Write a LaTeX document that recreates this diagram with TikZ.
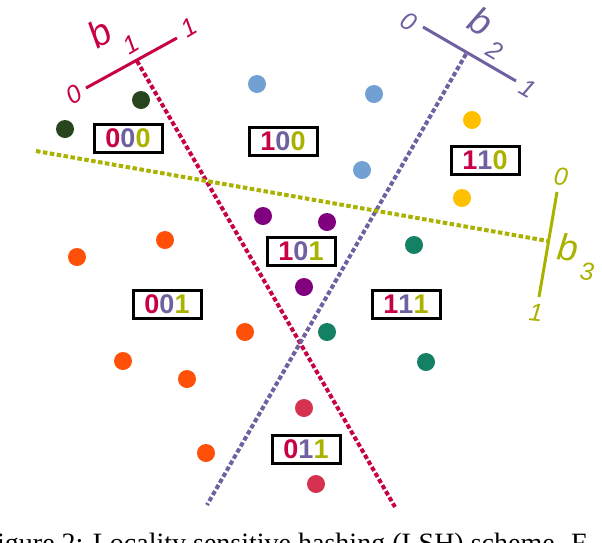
\documentclass[tikz,border=0pt]{standalone}
\usepackage{fontspec}
\setmainfont{Liberation Sans}
\newfontfamily\capfont{Liberation Serif}
\definecolor{cA}{RGB}{200,0,70}
\definecolor{cB}{RGB}{112,96,160}
\definecolor{cC}{RGB}{170,178,0}
\definecolor{dkgreen}{RGB}{40,70,30}
\definecolor{ltblue}{RGB}{114,160,210}
\definecolor{gold}{RGB}{255,192,0}
\definecolor{plum}{RGB}{128,0,128}
\definecolor{teal}{RGB}{20,128,100}
\definecolor{orng}{RGB}{255,80,10}
\definecolor{rose}{RGB}{214,50,80}
\begin{document}
\begin{tikzpicture}[x=1pt,y=-1pt,
  hyper/.style={line width=4pt,dash pattern=on 4.5pt off 2.5pt},
  axisline/.style={line width=3pt},
  code/.style={draw=black,line width=3pt,minimum width=68pt,minimum height=28pt,inner sep=0pt,font=\fontsize{27}{27}\selectfont\bfseries},
  pt/.style={circle,inner sep=0pt,minimum size=18pt},
  lab/.style={font=\fontsize{25}{25}\selectfont\itshape,inner sep=0pt},
  bl/.style={font=\fontsize{37}{37}\selectfont\itshape,inner sep=0pt}]
\useasboundingbox (0,0) rectangle (602,542);
\clip (0,0) rectangle (602,542);
% hyperplanes
\coordinate (h1a) at (137,61);  \coordinate (h1b) at (395,507);
\coordinate (h2a) at (466,54);  \coordinate (h2b) at (207,505);
\coordinate (h3a) at (36,151);  \coordinate (h3b) at (548,241);
\draw[hyper,cA] (h1a) -- (h1b);
\draw[hyper,cB] (h2a) -- (h2b);
\draw[hyper,cC] (h3a) -- (h3b);
% axis b1
\coordinate (a1a) at (86,88); \coordinate (a1b) at (177,38);
\draw[axisline,cA] (a1a) -- (a1b);
\node[lab,cA,rotate=31] (z1) at (74,95) {0};
\node[lab,cA,rotate=31] (o1) at (189,28) {1};
\node[bl,cA,rotate=31] (b1) at (100,33) {b};
\node[lab,cA,rotate=31] (s1) at (131,45) {1};
% axis b2
\coordinate (a2a) at (423,27); \coordinate (a2b) at (516,81);
\draw[axisline,cB] (a2a) -- (a2b);
\node[lab,cB,rotate=-30] (z2) at (409,22) {0};
\node[lab,cB,rotate=-30] (o2) at (528,89) {1};
\node[bl,cB,rotate=-30] (b2) at (481,21) {b};
\node[lab,cB,rotate=-30] (s2) at (495,50) {2};
% axis b3
\coordinate (a3a) at (557,192); \coordinate (a3b) at (539,297);
\draw[axisline,cC] (a3a) -- (a3b);
\node[lab,cC,rotate=-6] (z3) at (561,177) {0};
\node[lab,cC,rotate=-6] (o3) at (536,313) {1};
\node[bl,cC,rotate=-6] (b3) at (568,247) {b};
\node[lab,cC,rotate=-6] (s3) at (587,272) {3};
% points
\foreach \n/\x/\y in {g1/141/100,g2/65/129} \node[pt,fill=dkgreen] (\n) at (\x,\y) {};
\foreach \n/\x/\y in {l1/257/84,l2/374/94,l3/362/170} \node[pt,fill=ltblue] (\n) at (\x,\y) {};
\foreach \n/\x/\y in {y1/472/120,y2/462/198} \node[pt,fill=gold] (\n) at (\x,\y) {};
\foreach \n/\x/\y in {p1/263/216,p2/327/222,p3/304/287} \node[pt,fill=plum] (\n) at (\x,\y) {};
\foreach \n/\x/\y in {t1/414/245,t2/327/332,t3/426/362} \node[pt,fill=teal] (\n) at (\x,\y) {};
\foreach \n/\x/\y in {r1/77/257,r2/165/240,r3/245/332,r4/123/361,r5/187/379,r6/206/453} \node[pt,fill=orng] (\n) at (\x,\y) {};
\foreach \n/\x/\y in {k1/304/408,k2/316/484} \node[pt,fill=rose] (\n) at (\x,\y) {};
% codes
\node[code,fill=white] (c000) at (128,138) {\textcolor{cA}{0}\textcolor{cB}{0}\textcolor{cC}{0}};
\node[code,fill=white] (c100) at (283,141) {\textcolor{cA}{1}\textcolor{cB}{0}\textcolor{cC}{0}};
\node[code,fill=white] (c110) at (485,160) {\textcolor{cA}{1}\textcolor{cB}{1}\textcolor{cC}{0}};
\node[code,fill=white] (c101) at (301,251) {\textcolor{cA}{1}\textcolor{cB}{0}\textcolor{cC}{1}};
\node[code,fill=white] (c001) at (167,304) {\textcolor{cA}{0}\textcolor{cB}{0}\textcolor{cC}{1}};
\node[code,fill=white] (c111) at (406,304) {\textcolor{cA}{1}\textcolor{cB}{1}\textcolor{cC}{1}};
\node[code,fill=white] (c011) at (306,449) {\textcolor{cA}{0}\textcolor{cB}{1}\textcolor{cC}{1}};
% caption (cut off at the bottom edge, as in the reference)
\node[anchor=base west,inner sep=0pt,font=\capfont\fontsize{28}{28}\selectfont] (cap) at (-3,552) {igure 2: Locality sensitive hashing (LSH) scheme. F};
\end{tikzpicture}
\end{document}
